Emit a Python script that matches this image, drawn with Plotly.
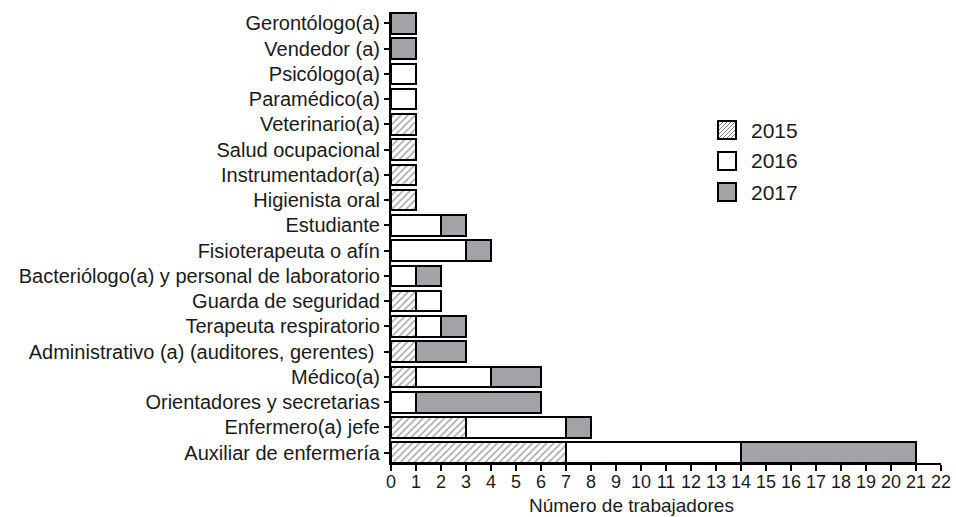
import plotly.graph_objects as go

categories = [
    "Auxiliar de enfermería",
    "Enfermero(a) jefe",
    "Orientadores y secretarias",
    "Médico(a)",
    "Administrativo (a) (auditores, gerentes) ",
    "Terapeuta respiratorio",
    "Guarda de seguridad",
    "Bacteriólogo(a) y personal de laboratorio",
    "Fisioterapeuta o afín",
    "Estudiante",
    "Higienista oral",
    "Instrumentador(a)",
    "Salud ocupacional",
    "Veterinario(a)",
    "Paramédico(a)",
    "Psicólogo(a)",
    "Vendedor (a)",
    "Gerontólogo(a)",
]
v2015 = [7, 3, 0, 1, 1, 1, 1, 0, 0, 0, 1, 1, 1, 1, 0, 0, 0, 0]
v2016 = [7, 4, 1, 3, 0, 1, 1, 1, 3, 2, 0, 0, 0, 0, 1, 1, 0, 0]
v2017 = [7, 1, 5, 2, 2, 1, 0, 1, 1, 1, 0, 0, 0, 0, 0, 0, 1, 1]
series_names = ["2015", "2016", "2017"]
x_ticks = list(range(0, 23))

FONT = "Liberation Sans, Arial, sans-serif"
TXT = "#1a1a1a"
GRAY = "#a3a2a7"
HATCH = "#4a4a4a"

W, H = 956, 517
ML, MR, MT, MB = 391, 15, 12, 54
PW, PH = W - ML - MR, H - MT - MB


def px_x(px):
    return (px - ML) / PW


def px_y(py):
    return (H - MB - py) / PH


def nz(vals):
    return [v if v else None for v in vals]


fig = go.Figure()
fig.add_trace(go.Bar(
    y=categories, x=nz(v2015), orientation="h", name=series_names[0],
    marker=dict(color="white", line=dict(color="black", width=2),
                pattern=dict(shape="/", fgcolor=HATCH, bgcolor="white",
                             size=5, solidity=0.3)),
))
fig.add_trace(go.Bar(
    y=categories, x=nz(v2016), orientation="h", name=series_names[1],
    marker=dict(color="white", line=dict(color="black", width=2)),
))
fig.add_trace(go.Bar(
    y=categories, x=nz(v2017), orientation="h", name=series_names[2],
    marker=dict(color=GRAY, line=dict(color="black", width=2)),
))

# manual legend (larger boxes than plotly's native legend)
shapes = []
annotations = []
box_x0, box_x1 = 718, 736
centers = [130, 161, 192]
fills = ["white", "white", GRAY]
for i, (name, cy) in enumerate(zip(series_names, centers)):
    y0, y1 = cy - 9, cy + 9
    if i == 0:
        s = box_x1 - box_x0
        for d in range(-s + 2, s, 4):
            u0, u1 = max(0, -d), min(s, s - d)
            v0, v1 = u0 + d, u1 + d
            shapes.append(dict(type="line", xref="paper", yref="paper",
                               x0=px_x(box_x0 + u0), y0=px_y(y1 - v0),
                               x1=px_x(box_x0 + u1), y1=px_y(y1 - v1),
                               line=dict(color="#808080", width=1)))
    shapes.append(dict(type="rect", xref="paper", yref="paper",
                       x0=px_x(box_x0), x1=px_x(box_x1),
                       y0=px_y(y1), y1=px_y(y0),
                       fillcolor=fills[i] if i else "rgba(0,0,0,0)",
                       line=dict(color="black", width=2),
                       layer="above"))
    annotations.append(dict(text=name, xref="paper", yref="paper",
                            x=px_x(749), y=px_y(cy), xanchor="left", yanchor="middle",
                            showarrow=False, font=dict(size=21, family=FONT, color=TXT)))

annotations.append(dict(text="Número de trabajadores", xref="paper", yref="paper",
                        x=px_x(631), y=px_y(506), xanchor="center", yanchor="middle",
                        showarrow=False, font=dict(size=19, family=FONT, color=TXT)))

fig.update_layout(
    barmode="stack",
    bargap=0.18,
    width=W, height=H,
    margin=dict(l=ML, r=MR, t=MT, b=MB),
    paper_bgcolor="white", plot_bgcolor="white",
    font=dict(family=FONT, color=TXT, size=16),
    showlegend=False,
    shapes=shapes,
    annotations=annotations,
)
fig.update_xaxes(
    range=[0, 22], tickvals=x_ticks, ticktext=[str(t) for t in x_ticks],
    showgrid=False, zeroline=False, showline=True, linecolor="black", linewidth=2,
    ticks="outside", ticklen=6, tickwidth=2, tickcolor="black",
    tickfont=dict(size=18, family=FONT, color=TXT), automargin=False,
    ticklabelstandoff=-5,
)
fig.update_yaxes(
    type="category", categoryorder="array", categoryarray=categories,
    range=[-0.41, 17.45],
    showgrid=False, zeroline=False, showline=True, linecolor="black", linewidth=2,
    ticks="outside", ticklen=5, tickwidth=2, tickcolor="black",
    tickfont=dict(size=20, family=FONT, color=TXT), automargin=False,
)

fig.write_html("out.html", config={"displayModeBar": False},
               post_script="document.body.style.margin='0';document.body.style.overflow='hidden';")
